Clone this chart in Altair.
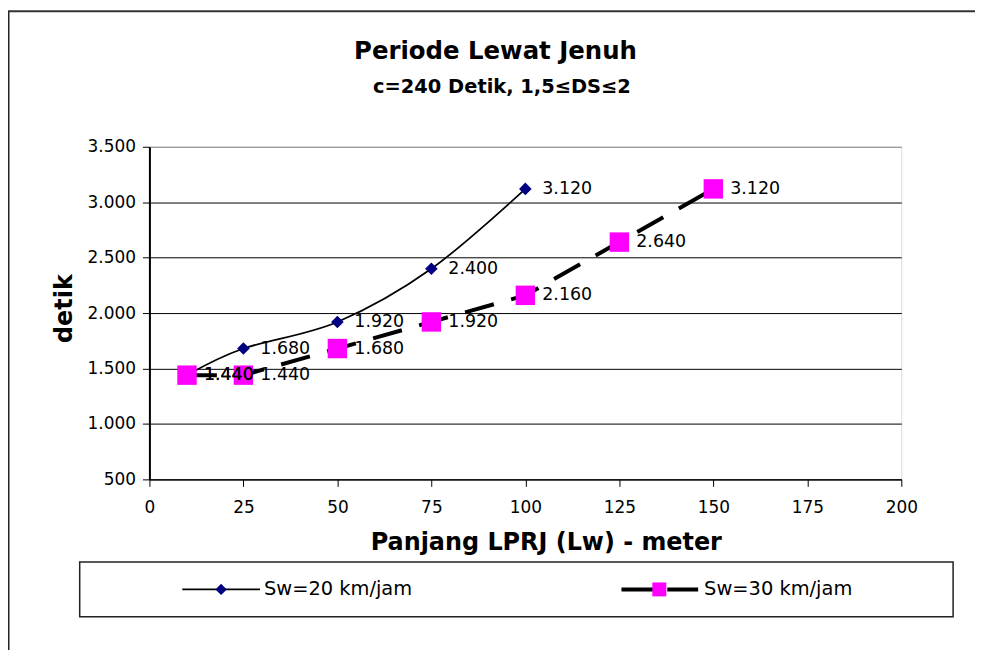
import altair as alt
import pandas as pd

# ---- data ----
title_text = "Periode Lewat Jenuh"
subtitle_text = "c=240 Detik, 1,5≤DS≤2"
x_title = "Panjang LPRJ (Lw) - meter"
y_title = "detik"
series_names = ["Sw=20 km/jam", "Sw=30 km/jam"]

s1_x = [10, 25, 50, 75, 100]
s1_y = [1440, 1680, 1920, 2400, 3120]
s2_x = [10, 25, 50, 75, 100, 125, 150]
s2_y = [1440, 1440, 1680, 1920, 2160, 2640, 3120]

x_ticks = [0, 25, 50, 75, 100, 125, 150, 175, 200]
y_ticks = [500, 1000, 1500, 2000, 2500, 3000, 3500]

FONT = "DejaVu Sans"
NAVY = "#000080"
MAGENTA = "#FF00FF"

df1 = pd.DataFrame({"x": s1_x, "y": s1_y, "series": series_names[0]})
df2 = pd.DataFrame({"x": s2_x, "y": s2_y, "series": series_names[1]})

xs = alt.Scale(domain=[0, 200], nice=False, zero=False)
ys = alt.Scale(domain=[500, 3500], nice=False, zero=False)

x_axis = alt.Axis(
    values=x_ticks, grid=False, tickSize=7, tickColor="black", tickWidth=1,
    domainColor="black", domainWidth=1.5,
    labelFont=FONT, labelFontSize=17, labelColor="black", labelPadding=13,
    labelFlush=False, labelOverlap=False,
    title=x_title, titleFont=FONT, titleFontSize=24, titleFontWeight="bold",
    titleColor="black", titleX=398, titleY=70, titleBaseline="alphabetic",
    titleAlign="center",
)
y_axis = alt.Axis(
    values=y_ticks, grid=True,
    gridColor={"condition": {"test": "datum.value >= 3500", "value": "#808080"}, "value": "black"},
    gridWidth=1, tickSize=7, tickColor="black", tickWidth=1,
    domainColor="black", domainWidth=2,
    labelFont=FONT, labelFontSize=17, labelColor="black", labelPadding=7,
    labelExpr="replace(format(datum.value, ','), ',', '.')",
    labelOverlap=False, labelFlush=False,
    title=y_title, titleFont=FONT, titleFontSize=24, titleFontWeight="bold",
    titleColor="black", titleX=-78, titleY=162, titleBaseline="alphabetic",
    titleAlign="center", titleAngle=-90,
)

X = alt.X("x:Q", scale=xs, axis=x_axis)
Y = alt.Y("y:Q", scale=ys, axis=y_axis)
Xn = alt.X("x:Q", scale=xs)
Yn = alt.Y("y:Q", scale=ys)

line1 = alt.Chart(df1).mark_line(
    color="black", strokeWidth=1.75, interpolate="cardinal"
).encode(x=X, y=Y)
pts1 = alt.Chart(df1).mark_point(
    shape="diamond", filled=True, color=NAVY, size=160, opacity=1
).encode(x=Xn, y=Yn)
line2 = alt.Chart(df2).mark_line(
    color="black", strokeWidth=4, strokeDash=[30, 18]
).encode(x=Xn, y=Yn)
pts2 = alt.Chart(df2).mark_point(
    shape="square", filled=True, color=MAGENTA, size=380, opacity=1
).encode(x=Xn, y=Yn)

lab_expr = "replace(format(datum.y, ','), ',', '.')"
lab1 = alt.Chart(df1).transform_calculate(label=lab_expr).mark_text(
    align="left", baseline="middle", dx=17, font=FONT, fontSize=17.5, color="black"
).encode(x=Xn, y=Yn, text="label:N")
lab2 = alt.Chart(df2).transform_calculate(label=lab_expr).mark_text(
    align="left", baseline="middle", dx=17, font=FONT, fontSize=17.5, color="black"
).encode(x=Xn, y=Yn, text="label:N")

# ---- titles ----
tdf = pd.DataFrame({"t": [title_text]})
sdf = pd.DataFrame({"t": [subtitle_text]})
title_mark = alt.Chart(tdf).mark_text(
    font=FONT, fontSize=24.5, fontWeight="bold", color="black",
    align="center", baseline="alphabetic"
).encode(text="t:N", x=alt.value(347.5), y=alt.value(-88))
subtitle_mark = alt.Chart(sdf).mark_text(
    font=FONT, fontSize=19.5, fontWeight="bold", color="black",
    align="center", baseline="alphabetic"
).encode(text="t:N", x=alt.value(354), y=alt.value(-54))

# ---- outer chart frame (left and top edges visible) ----
one = pd.DataFrame({"a": [0]})
frame_left = alt.Chart(one).mark_rule(color="#222222", strokeWidth=2).encode(
    x=alt.value(-141.5), y=alt.value(-136), y2=alt.value(520))
frame_top = alt.Chart(one).mark_rule(color="#333333", strokeWidth=2).encode(
    x=alt.value(-142), x2=alt.value(840), y=alt.value(-136))

# ---- legend (drawn as a box below the plot) ----
leg_box = alt.Chart(one).mark_rect(
    fill="white", stroke="#222222", strokeWidth=1.5
).encode(x=alt.value(-70), x2=alt.value(807), y=alt.value(417), y2=alt.value(472))

l1 = pd.DataFrame({"name": [series_names[0]]})
l2 = pd.DataFrame({"name": [series_names[1]]})
leg1_line = alt.Chart(l1).mark_rule(color="black", strokeWidth=1.75).encode(
    x=alt.value(33), x2=alt.value(111), y=alt.value(444.5))
leg1_pt = alt.Chart(l1).mark_point(
    shape="diamond", filled=True, color=NAVY, size=130, opacity=1
).encode(x=alt.value(72), y=alt.value(444.5))
leg1_txt = alt.Chart(l1).mark_text(
    align="left", baseline="middle", font=FONT, fontSize=19.5, color="black"
).encode(text="name:N", x=alt.value(115), y=alt.value(444.5))

leg2_line = alt.Chart(l2).mark_rule(
    color="black", strokeWidth=4, strokeDash=[32, 14]
).encode(x=alt.value(474), x2=alt.value(551), y=alt.value(444.5))
leg2_pt = alt.Chart(l2).mark_point(
    shape="square", filled=True, color=MAGENTA, size=196, opacity=1
).encode(x=alt.value(512), y=alt.value(444.5))
leg2_txt = alt.Chart(l2).mark_text(
    align="left", baseline="middle", font=FONT, fontSize=19.5, color="black"
).encode(text="name:N", x=alt.value(557), y=alt.value(444.5))

chart = alt.layer(
    line1, pts1, line2, pts2, lab1, lab2,
    title_mark, subtitle_mark, frame_left, frame_top,
    leg_box, leg1_line, leg1_pt, leg1_txt, leg2_line, leg2_pt, leg2_txt,
).properties(
    width=755, height=334,
    padding={"left": 142, "top": 138, "right": 74, "bottom": 170},
    autosize=alt.AutoSizeParams(type="none"),
).configure_view(
    stroke="#808080", strokeWidth=2
).configure(background="white")

chart.save("out.html", embed_options={"renderer": "svg", "actions": False})
